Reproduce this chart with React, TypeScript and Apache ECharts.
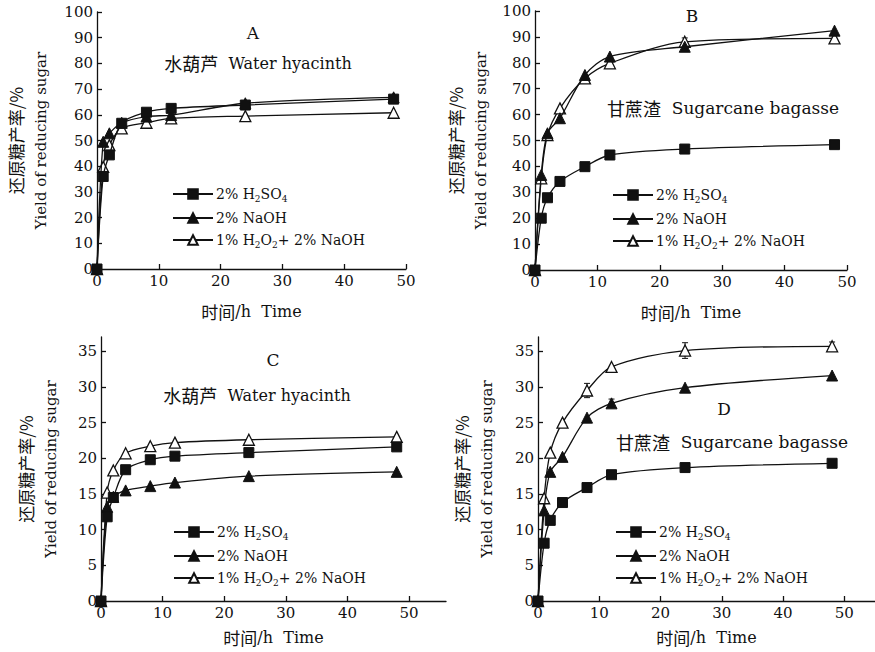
import React, { useEffect, useRef } from "react";
import * as echarts from "echarts";

// ---- data ----
const times = [0, 1, 2, 4, 8, 12, 24, 48];

const aH2SO4 = [0, 36, 44.4, 56.7, 61, 62.5, 63.8, 66.1];
const aNaOH = [0, 49.5, 52.8, 56.9, 59.3, 59.9, 64.5, 66.8];
const aH2O2 = [0, 39.7, 48.2, 54.7, 56.9, 58.6, 59.5, 60.8];

const bH2SO4 = [0, 20, 27.9, 34.2, 39.9, 44.4, 46.7, 48.4];
const bNaOH = [0, 36.7, 52.8, 58.6, 75.3, 82.4, 86.2, 92.4];
const bH2O2 = [0, 35.4, 52.1, 62.4, 74, 79.8, 88.1, 89.4];

const cH2SO4 = [0, 11.8, 14.5, 18.4, 19.8, 20.3, 20.8, 21.6];
const cNaOH = [0, 13.2, 14.6, 15.5, 16.1, 16.6, 17.5, 18.1];
const cH2O2 = [0, 15.2, 18.3, 20.7, 21.7, 22.2, 22.6, 23.0];

const dH2SO4 = [0, 8.1, 11.3, 13.8, 15.9, 17.7, 18.7, 19.3];
const dNaOH = [0, 12.7, 18.1, 20.2, 25.7, 27.7, 29.9, 31.6];
const dH2O2 = [0, 14.4, 20.8, 25, 29.5, 32.8, 35.1, 35.7];

// error bars [time, value, error]
const bErr = [[24, 88.1, 1.5]];
const dErr = [[8, 29.5, 1.0], [24, 35.1, 1.1], [48, 35.7, 0.6], [12, 27.7, 0.6]];

const xTicks = [0, 10, 20, 30, 40, 50];
const yTicksAB = [0, 10, 20, 30, 40, 50, 60, 70, 80, 90, 100];
const yTicksCD = [0, 5, 10, 15, 20, 25, 30, 35];

const seriesNames = ["2% H2SO4", "2% NaOH", "1% H2O2+ 2% NaOH"];
const legendRich: Record<string, string> = {
  "2% H2SO4": "2% H{s|2}SO{s|4}",
  "2% NaOH": "2% NaOH",
  "1% H2O2+ 2% NaOH": "1% H{s|2}O{s|2}+ 2% NaOH",
};

const panelLetters = ["A", "B", "C", "D"];
const panelMaterials = [
  ["水葫芦", "Water hyacinth"],
  ["甘蔗渣", "Sugarcane bagasse"],
  ["水葫芦", "Water hyacinth"],
  ["甘蔗渣", "Sugarcane bagasse"],
];

const INK = "#111";
const SERIF = "DejaVu Serif";
const CJK = "Noto Sans CJK SC";

const grids = [
  { left: 97, top: 12, width: 309, height: 257 },
  { left: 535, top: 11, width: 312, height: 259 },
  { left: 101, top: 337, width: 345, height: 264 },
  { left: 538, top: 337, width: 341, height: 264 },
];
const xMax = [50, 50, 56, 55];
const yMax = [100, 100, 37, 37];
const yInt = [10, 10, 5, 5];
const yTicks = [yTicksAB, yTicksAB, yTicksCD, yTicksCD];
const xNameGap = [34, 34, 28, 28];
const yNameGap = [44, 42, 38, 39];

const letterPos = [[253, 33], [692, 16], [273, 360], [724, 409]];
const materialPos = [[258, 63], [723, 108], [257, 395], [732, 442]];
const legendPos = [[172, 187], [612, 188], [173, 525], [615, 525]];

const panelData = [
  [aH2SO4, aNaOH, aH2O2],
  [bH2SO4, bNaOH, bH2O2],
  [cH2SO4, cNaOH, cH2O2],
  [dH2SO4, dNaOH, dH2O2],
];
const panelErr = [[], bErr, [], dErr];

function pairs(vals: number[]) {
  return times.map((t, i) => [t, vals[i]]);
}

const symbolDefs = [
  { symbol: "rect", symbolSize: 10, itemStyle: { color: INK, borderColor: INK, borderWidth: 1 } },
  { symbol: "triangle", symbolSize: 11, itemStyle: { color: INK, borderColor: INK, borderWidth: 1 } },
  { symbol: "triangle", symbolSize: 11, itemStyle: { color: "#fff", borderColor: INK, borderWidth: 1.3 } },
];

export default function App() {
  const ref = useRef<HTMLDivElement>(null);
  useEffect(() => {
    if (!ref.current) return;
    const chart = echarts.init(ref.current, undefined, { renderer: "svg" });

    const xAxis = grids.map((_, i) => ({
      type: "value",
      gridIndex: i,
      min: 0,
      max: xMax[i],
      interval: 10,
      name: "{cn|时间}{en|/h  Time}",
      nameLocation: "middle",
      nameGap: xNameGap[i],
      nameTextStyle: {
        color: INK,
        rich: {
          cn: { fontFamily: CJK, fontSize: 17, color: INK },
          en: { fontFamily: SERIF, fontSize: 16, color: INK },
        },
      },
      axisLine: { show: true, onZero: false, lineStyle: { color: INK, width: 1.3 } },
      axisTick: { show: true, inside: true, length: 5, lineStyle: { color: INK, width: 1.3 }, customValues: xTicks },
      axisLabel: { customValues: xTicks, margin: 4, fontFamily: SERIF, fontSize: 15, color: INK },
      splitLine: { show: false },
    }));

    const yAxis = grids.map((_, i) => ({
      type: "value",
      gridIndex: i,
      min: 0,
      max: yMax[i],
      interval: yInt[i],
      name: "{cn|还原糖产率/%}\n{en|Yield of reducing sugar}",
      nameLocation: "middle",
      nameGap: yNameGap[i],
      nameTextStyle: {
        color: INK,
        rich: {
          cn: { fontFamily: CJK, fontSize: 17, color: INK, lineHeight: 25 },
          en: { fontFamily: SERIF, fontSize: 15, color: INK, lineHeight: 25 },
        },
      },
      axisLine: { show: true, onZero: false, lineStyle: { color: INK, width: 1.3 } },
      axisTick: { show: true, inside: true, length: 5, lineStyle: { color: INK, width: 1.3 }, customValues: yTicks[i] },
      axisLabel: { customValues: yTicks[i], margin: 4, fontFamily: SERIF, fontSize: 15, color: INK },
      splitLine: { show: false },
    }));

    const series: any[] = [];
    panelData.forEach((sets, p) => {
      if (panelErr[p].length) {
        series.push({
          type: "custom",
          xAxisIndex: p,
          yAxisIndex: p,
          z: 1,
          silent: true,
          data: panelErr[p],
          renderItem: (params: any, api: any) => {
            const x = api.value(0);
            const y = api.value(1);
            const e = api.value(2);
            const t = api.coord([x, y + e]);
            const b = api.coord([x, y - e]);
            const w = 3;
            const st = { stroke: INK, lineWidth: 1 };
            return {
              type: "group",
              children: [
                { type: "line", shape: { x1: t[0], y1: t[1], x2: b[0], y2: b[1] }, style: st },
                { type: "line", shape: { x1: t[0] - w, y1: t[1], x2: t[0] + w, y2: t[1] }, style: st },
                { type: "line", shape: { x1: b[0] - w, y1: b[1], x2: b[0] + w, y2: b[1] }, style: st },
              ],
            };
          },
        });
      }
      sets.forEach((vals, k) => {
        series.push({
          type: "line",
          name: seriesNames[k],
          xAxisIndex: p,
          yAxisIndex: p,
          data: pairs(vals),
          smooth: 0.3,
          z: 3 + (2 - k),
          showAllSymbol: true,
          symbol: symbolDefs[k].symbol,
          symbolSize: symbolDefs[k].symbolSize,
          itemStyle: symbolDefs[k].itemStyle,
          lineStyle: { color: INK, width: 1.3 },
          emphasis: { disabled: true },
        });
      });
    });

    const legend = legendPos.map(([l, t]) => ({
      left: l,
      top: t,
      padding: 0,
      orient: "vertical",
      data: seriesNames,
      itemWidth: 40,
      itemHeight: 12,
      itemGap: 8,
      selectedMode: false,
      formatter: (n: string) => legendRich[n] || n,
      textStyle: {
        fontFamily: SERIF,
        fontSize: 14,
        color: INK,
        padding: [0, 0, 0, -2],
        rich: {
          s: { fontFamily: SERIF, fontSize: 9, color: INK, verticalAlign: "bottom", lineHeight: 18 },
        },
      },
    }));

    const graphic: any[] = [];
    panelLetters.forEach((L, i) => {
      graphic.push({
        type: "text",
        x: letterPos[i][0],
        y: letterPos[i][1],
        style: { text: L, fontFamily: SERIF, fontSize: 17, fill: INK, align: "center", verticalAlign: "middle" },
      });
      graphic.push({
        type: "text",
        x: materialPos[i][0],
        y: materialPos[i][1],
        style: {
          text: `{cn|${panelMaterials[i][0]}}{en|  ${panelMaterials[i][1]}}`,
          align: "center",
          verticalAlign: "middle",
          fill: INK,
          rich: {
            cn: { fontFamily: CJK, fontSize: 18, fill: INK, color: INK },
            en: { fontFamily: SERIF, fontSize: i % 2 === 0 ? 16 : 17, fill: INK, color: INK },
          },
        },
      });
    });

    chart.setOption({
      animation: false,
      backgroundColor: "#fff",
      grid: grids,
      xAxis,
      yAxis,
      series,
      legend,
      graphic,
    });
    return () => chart.dispose();
  }, []);
  return <div ref={ref} style={{ position: "absolute", left: 0, top: 0, width: 875, height: 652 }} />;
}
